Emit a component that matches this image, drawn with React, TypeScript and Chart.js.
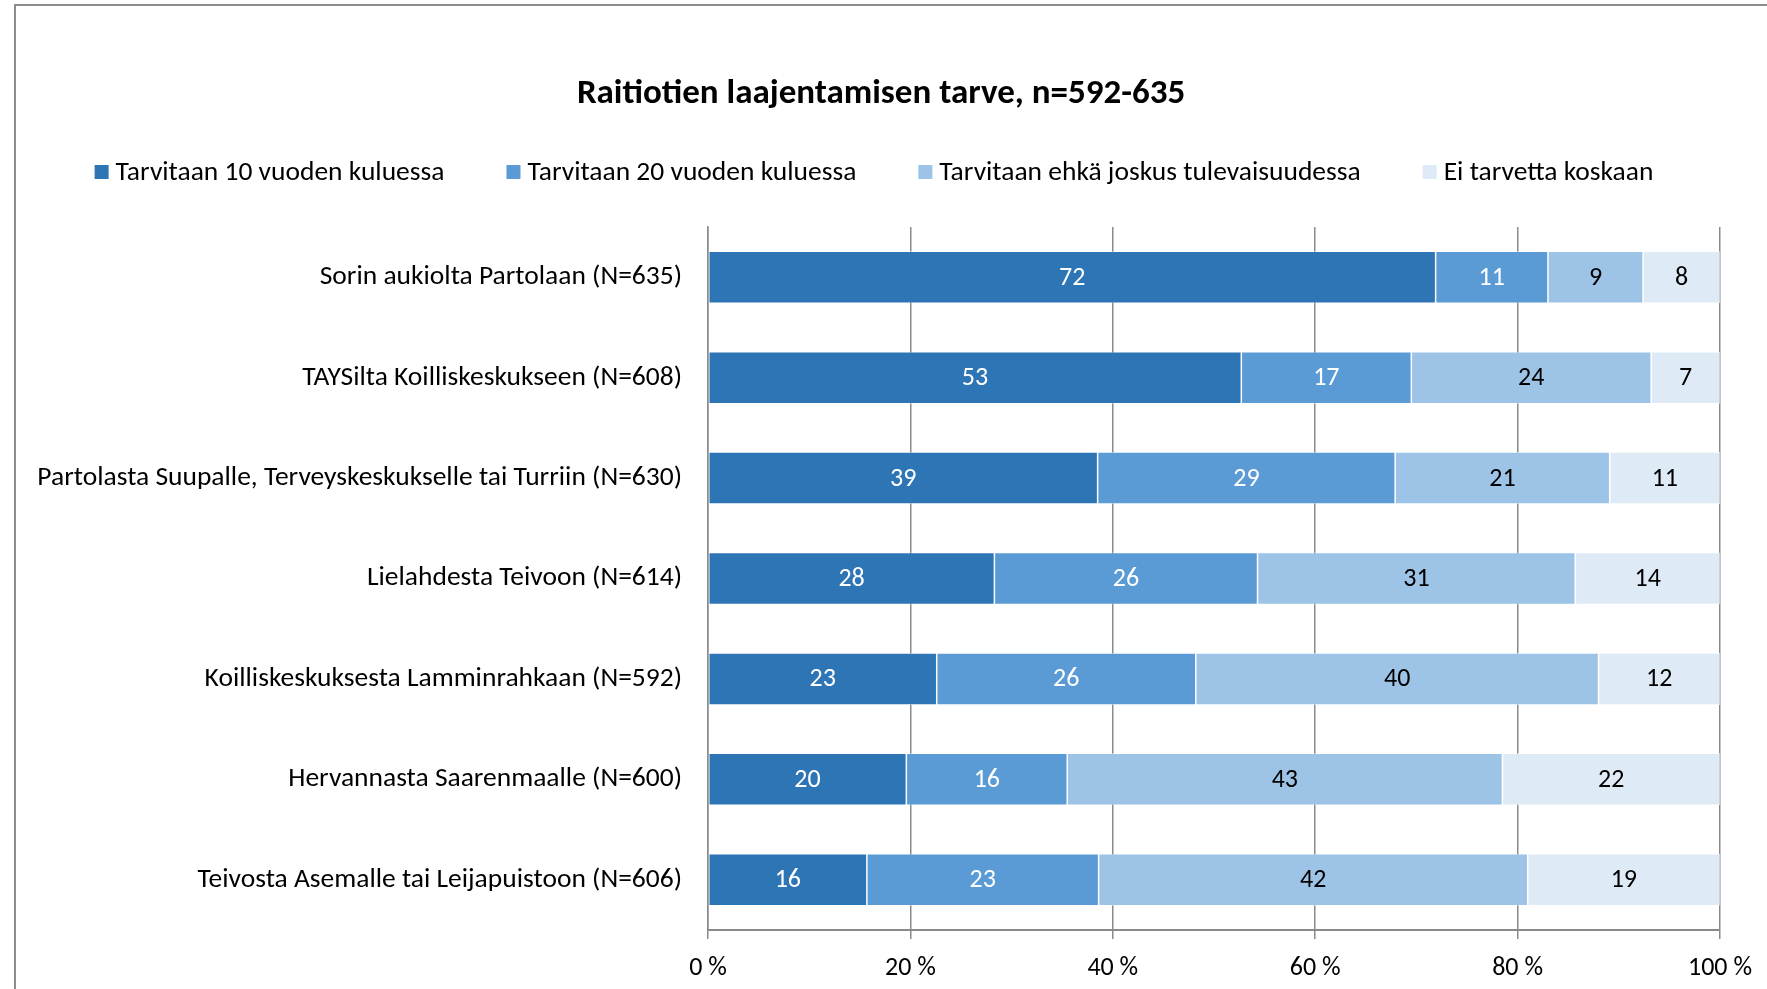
import React, { useEffect, useRef } from "react";
import { Chart, registerables } from "chart.js";

Chart.register(...registerables);

const categories = [
  "Sorin aukiolta Partolaan (N=635)",
  "TAYSilta Koilliskeskukseen (N=608)",
  "Partolasta Suupalle, Terveyskeskukselle tai Turriin (N=630)",
  "Lielahdesta Teivoon (N=614)",
  "Koilliskeskuksesta Lamminrahkaan (N=592)",
  "Hervannasta Saarenmaalle (N=600)",
  "Teivosta Asemalle tai Leijapuistoon (N=606)",
];

const seriesNames = [
  "Tarvitaan 10 vuoden kuluessa",
  "Tarvitaan 20 vuoden kuluessa",
  "Tarvitaan ehkä joskus tulevaisuudessa",
  "Ei tarvetta koskaan",
];

const within10 = [71.9, 52.7, 38.5, 28.3, 22.6, 19.6, 15.7];
const within20 = [11.1, 16.8, 29.4, 26.0, 25.6, 15.9, 22.9];
const maybeFuture = [9.4, 23.7, 21.2, 31.4, 39.8, 43.0, 42.4];
const never = [7.6, 6.8, 10.9, 14.3, 12.0, 21.5, 19.0];

const xTicks = [0, 20, 40, 60, 80, 100];

const colors = ["#2E75B6", "#5B9BD5", "#9DC3E6", "#DEEBF7"];
const labelColors = ["#ffffff", "#ffffff", "#000000", "#000000"];

const FONT = "Carlito, Lato, 'Noto Sans', sans-serif";
const TITLE = "Raitiotien laajentamisen tarve, n=592-635";

const framePlugin = {
  id: "frame",
  beforeDraw(chart: any) {
    const ctx = chart.ctx;
    ctx.save();
    ctx.fillStyle = "#ffffff";
    ctx.fillRect(0, 0, chart.width, chart.height);
    ctx.strokeStyle = "#8c8c8c";
    ctx.lineWidth = 2;
    ctx.beginPath();
    ctx.moveTo(15, chart.height + 2);
    ctx.lineTo(15, 5);
    ctx.lineTo(chart.width + 2, 5);
    ctx.stroke();
    ctx.restore();
  },
};

const valueLabelPlugin = {
  id: "valueLabels",
  afterDatasetsDraw(chart: any) {
    const ctx = chart.ctx;
    ctx.save();
    ctx.font = `26px ${FONT}`;
    ctx.textAlign = "center";
    ctx.textBaseline = "middle";
    chart.data.datasets.forEach((ds: any, di: number) => {
      const meta = chart.getDatasetMeta(di);
      meta.data.forEach((el: any, i: number) => {
        const v = ds.data[i];
        const cx = (el.x + el.base) / 2;
        ctx.fillStyle = labelColors[di];
        ctx.fillText(String(Math.round(v)), cx, el.y + 1);
      });
    });
    ctx.restore();
  },
};

const headerPlugin = {
  id: "header",
  afterDraw(chart: any) {
    const ctx = chart.ctx;
    ctx.save();
    ctx.font = `bold 35px ${FONT}`;
    ctx.textAlign = "center";
    ctx.textBaseline = "middle";
    ctx.fillStyle = "#000000";
    ctx.fillText(TITLE, 881, 94);
    ctx.font = `27.5px ${FONT}`;
    ctx.textAlign = "left";
    const box = 14;
    const boxGap = 7;
    const itemGap = 62;
    const widths = seriesNames.map((n) => box + boxGap + ctx.measureText(n).width);
    const total = widths.reduce((a, b) => a + b, 0) + itemGap * (seriesNames.length - 1);
    let x = 874 - total / 2;
    const y = 172;
    seriesNames.forEach((n, i) => {
      ctx.fillStyle = colors[i];
      ctx.fillRect(x, y - box / 2, box, box);
      ctx.fillStyle = "#000000";
      ctx.fillText(n, x + box + boxGap, y + 1);
      x += widths[i] + itemGap;
    });
    ctx.restore();
  },
};

export default function App() {
  const ref = useRef<HTMLCanvasElement>(null);

  useEffect(() => {
    document.body.style.margin = "0";
    const canvas = ref.current!;
    const datasets = [within10, within20, maybeFuture, never].map((d, i) => ({
      label: seriesNames[i],
      data: d,
      backgroundColor: colors[i],
      borderColor: "rgba(255,255,255,0.7)",
      borderWidth: 0.75,
      borderSkipped: false,
      barPercentage: 0.518,
      categoryPercentage: 1,
    }));
    const chart = new Chart(canvas, {
      type: "bar",
      data: { labels: categories, datasets },
      options: {
        indexAxis: "y",
        animation: false,
        responsive: false,
        devicePixelRatio: 1,
        layout: { padding: { left: 10, right: 47, top: 227, bottom: 0 } },
        plugins: {
          legend: { display: false },
          tooltip: { enabled: false },
          title: { display: false },
        },
        scales: {
          x: {
            stacked: true,
            min: 0,
            max: 100,
            afterBuildTicks(scale: any) {
              scale.ticks = xTicks.map((v) => ({ value: v }));
            },
            afterFit(scale: any) {
              scale.height = 59;
            },
            ticks: {
              color: "#000000",
              font: { family: FONT, size: 26 },
              padding: 14,
              maxRotation: 0,
              callback: (v: any) => `${v} %`,
            },
            grid: {
              color: "#8a8a8a",
              lineWidth: 1.5,
              drawTicks: true,
              tickLength: 9,
              tickColor: "#8a8a8a",
            },
            border: { display: true, color: "#8a8a8a", width: 2 },
          },
          y: {
            stacked: true,
            afterFit(scale: any) {
              scale.width = 698;
            },
            ticks: {
              color: "#000000",
              font: { family: FONT, size: 27.5 },
              padding: 26,
            },
            grid: { display: false, drawTicks: false },
            border: { display: true, color: "#8a8a8a", width: 1.5 },
          },
        },
      },
      plugins: [framePlugin, valueLabelPlugin, headerPlugin],
    });
    return () => chart.destroy();
  }, []);

  return (
    <div style={{ position: "fixed", left: 0, top: 0, width: 1767, height: 989, background: "#fff" }}>
      <canvas ref={ref} width={1767} height={989} />
    </div>
  );
}
